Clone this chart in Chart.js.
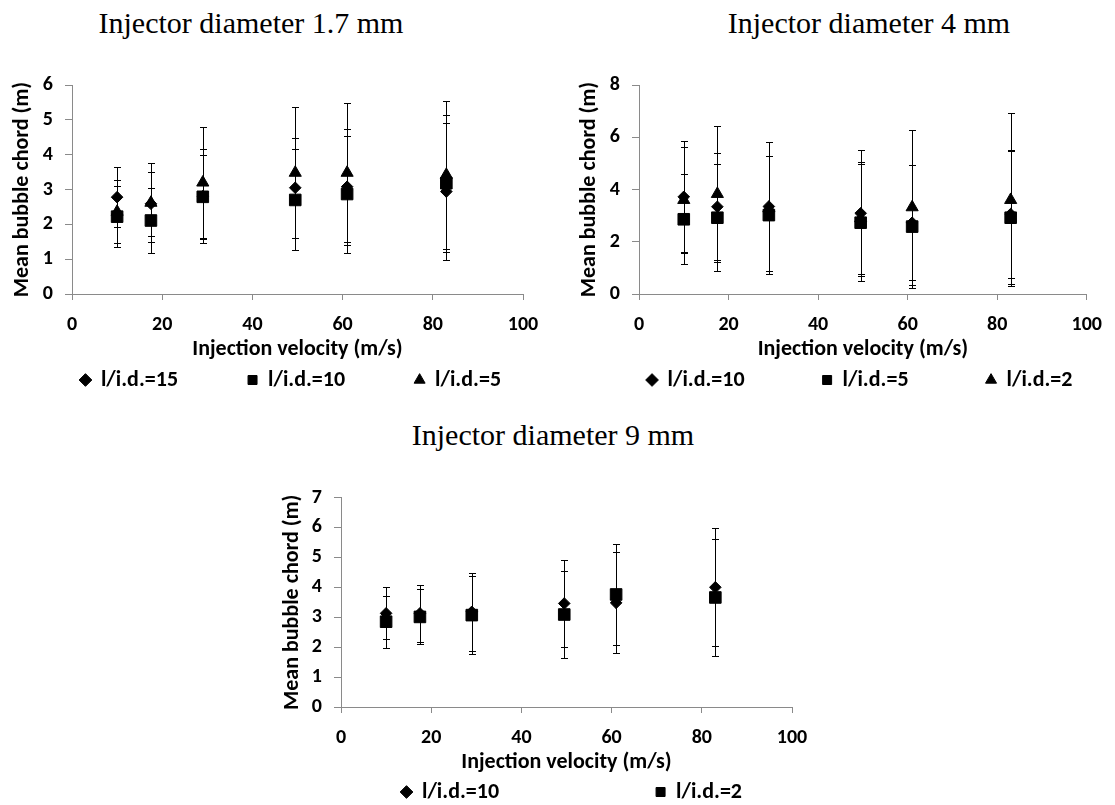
<!DOCTYPE html>
<html>
<head>
<meta charset="utf-8">
<script src="https://cdn.jsdelivr.net/npm/chart.js@4/dist/chart.umd.min.js"></script>
<style>
  html, body { margin: 0; padding: 0; background: #fff; width: 1115px; height: 805px; overflow: hidden; }
  .ttl { position: absolute; font-family: "Liberation Serif", "Times New Roman", serif; font-size: 30px; line-height: 30px; color: #000; white-space: nowrap; transform: translateX(-50%); }
  canvas { position: absolute; }
</style>
</head>
<body>
<div class="ttl" style="left:251px; top:8px;">Injector diameter 1.7 mm</div>
<div class="ttl" style="left:869px; top:8px;">Injector diameter 4 mm</div>
<div class="ttl" style="left:553px; top:420px;">Injector diameter 9 mm</div>
<canvas id="c1" width="557" height="350" style="left:0px; top:50px;"></canvas>
<canvas id="c2" width="548" height="350" style="left:567px; top:50px;"></canvas>
<canvas id="c3" width="560" height="345" style="left:270px; top:460px;"></canvas>
<script>
// ---------------- data ----------------
const velocity = [10, 17.5, 29, 49.5, 61, 83];        // injection velocity (m/s)
const xTicks = [0, 20, 40, 60, 80, 100];

// Injector diameter 1.7 mm
const d17Labels = ['l/i.d.=15', 'l/i.d.=10', 'l/i.d.=5'];
const d17_ld15 = [2.78, 2.59, 2.81, 3.05, 3.08, 2.94];
const d17_ld15_err = [0.86, 0.92, 1.36, 1.43, 1.66, 1.97];
const d17_ld10 = [2.22, 2.11, 2.79, 2.70, 2.87, 3.18];
const d17_ld10_err = [0.87, 0.92, 1.20, 1.45, 1.68, 1.97];
const d17_ld5 = [2.36, 2.62, 3.20, 3.48, 3.48, 3.42];
const d17_ld5_err = [0.90, 1.13, 1.58, 1.88, 2.00, 2.13];
const d17YTicks = [0, 1, 2, 3, 4, 5, 6];

// Injector diameter 4 mm
const d4Labels = ['l/i.d.=10', 'l/i.d.=5', 'l/i.d.=2'];
const d4_ld10 = [3.72, 3.34, 3.35, 3.09, 2.73, 3.06];
const d4_ld10_err = [2.13, 2.05, 2.48, 2.41, 2.20, 2.45];
const d4_ld5 = [2.86, 2.92, 3.02, 2.73, 2.58, 2.92];
const d4_ld5_err = [1.73, 2.04, 2.25, 2.25, 2.34, 2.55];
const d4_ld2 = [3.60, 3.83, 3.28, 2.90, 3.32, 3.60];
const d4_ld2_err = [2.04, 2.60, 2.53, 2.15, 2.96, 3.31];
const d4YTicks = [0, 2, 4, 6, 8];

// Injector diameter 9 mm
const d9Labels = ['l/i.d.=10', 'l/i.d.=2'];
const d9_ld10 = [3.13, 3.13, 3.18, 3.46, 3.48, 4.00];
const d9_ld10_err = [0.87, 0.95, 1.31, 1.45, 1.69, 1.97];
const d9_ld2 = [2.85, 3.01, 3.07, 3.09, 3.76, 3.66];
const d9_ld2_err = [0.87, 0.92, 1.31, 1.45, 1.69, 1.97];
const d9YTicks = [0, 1, 2, 3, 4, 5, 6, 7];

// ---------------- styling ----------------
const FONT = 'Carlito, Lato, "Open Sans", sans-serif';
const GREY = '#8a8a8a';
const MARKERS = {
  diamond: { style: 'rectRot', r: 5.8 },
  square: { style: 'rect', r: 8.2 },
  triangle: { style: 'triangle', r: 7 }
};

const errorBarPlugin = {
  id: 'errorBars',
  beforeDatasetsDraw(chart) {
    const ctx = chart.ctx, xs = chart.scales.x, ys = chart.scales.y;
    ctx.save();
    ctx.strokeStyle = '#000';
    ctx.lineWidth = 1;
    chart.data.datasets.forEach(ds => {
      ds.data.forEach((p, k) => {
        const e = ds.errors[k];
        const px = Math.round(xs.getPixelForValue(p.x)) + 0.5;
        const top = Math.round(ys.getPixelForValue(p.y + e)) + 0.5;
        const bot = Math.round(ys.getPixelForValue(Math.max(0, p.y - e))) + 0.5;
        ctx.beginPath();
        ctx.moveTo(px, top); ctx.lineTo(px, bot);
        ctx.moveTo(px - 3.5, top); ctx.lineTo(px + 3.5, top);
        ctx.moveTo(px - 3.5, bot); ctx.lineTo(px + 3.5, bot);
        ctx.stroke();
      });
    });
    ctx.restore();
  }
};

// places the legend row (one row, centred on cx / cy in canvas pixels)
const legendPlacePlugin = {
  id: 'legendPlace',
  beforeDraw(chart, args, opts) {
    const lg = chart.legend;
    if (!lg || opts.cx === undefined) return;
    lg.maxWidth = 5000;
    lg.maxHeight = 5000;
    lg.fit();
    const lo = lg.options.labels;
    const fs = lo.font.size;
    const w = lg.width;
    lg.left = opts.cx - w / 2;
    lg.right = lg.left + w;
    lg.top = opts.cy - lo.padding - fs / 2;
    lg.bottom = lg.top + lo.padding + fs + 20;
    lg.height = lg.bottom - lg.top;
  }
};

function makeChart(id, cfg) {
  const datasets = cfg.series.map((s, i) => ({
    label: s.label,
    data: velocity.map((v, k) => ({ x: v, y: s.values[k] })),
    errors: s.errors,
    pointStyle: MARKERS[s.marker].style,
    pointRadius: MARKERS[s.marker].r,
    pointHoverRadius: MARKERS[s.marker].r,
    backgroundColor: '#000',
    borderColor: '#000',
    borderWidth: 1,
    showLine: false,
    order: cfg.series.length - i
  }));
  const tickFont = { family: FONT, size: 20, weight: 'bold' };
  const titleFont = { family: FONT, size: 22, weight: 'bold' };
  const chart = new Chart(document.getElementById(id), {
    type: 'scatter',
    data: { datasets },
    plugins: [errorBarPlugin, legendPlacePlugin],
    options: {
      responsive: false,
      animation: false,
      devicePixelRatio: 1,
      layout: { padding: { left: 0, top: 0, right: 0, bottom: 0 } },
      scales: {
        x: {
          type: 'linear', min: 0, max: 100,
          afterBuildTicks: s => { s.ticks = xTicks.map(v => ({ value: v })); },
          afterFit: s => { s.height = 69; },
          grid: { drawOnChartArea: false, drawTicks: true, tickLength: 6, color: GREY, lineWidth: 1 },
          border: { display: true, color: GREY, width: 1 },
          ticks: { color: '#000', font: tickFont, padding: 13, maxRotation: 0 },
          title: { display: true, text: 'Injection velocity (m/s)', color: '#000',
                   font: titleFont, padding: { top: 0, bottom: 0 } }
        },
        y: {
          type: 'linear', min: 0, max: cfg.yTicks[cfg.yTicks.length - 1],
          afterBuildTicks: s => { s.ticks = cfg.yTicks.map(v => ({ value: v })); },
          afterFit: s => { s.width = cfg.area.left; },
          grid: { drawOnChartArea: false, drawTicks: true, tickLength: 7, color: GREY, lineWidth: 1 },
          border: { display: true, color: GREY, width: 1 },
          ticks: { color: '#000', font: tickFont, padding: 12 },
          title: { display: true, text: 'Mean bubble chord (m)', color: '#000',
                   font: titleFont, padding: { top: 9, bottom: 0 } }
        }
      },
      plugins: {
        tooltip: { enabled: false },
        legend: {
          display: true, position: 'bottom', maxHeight: 40,
          labels: {
            usePointStyle: true, boxWidth: 9, boxHeight: 9, padding: cfg.legendGap,
            color: '#000', font: { family: FONT, size: 22, weight: 'bold' },
            sort: (a, b) => a.datasetIndex - b.datasetIndex
          }
        },
        legendPlace: { cx: cfg.legend.x, cy: cfg.legend.y }
      }
    }
  });
  // adjust layout padding so that the plot area lands where the reference has it
  const t = cfg.area;
  for (let i = 0; i < 10; i++) {
    const a = chart.chartArea;
    const p = chart.config.options.layout.padding;
    const dl = t.left - a.left, dt = t.top - a.top, dr = a.right - t.right, db = a.bottom - t.bottom;
    if (Math.abs(dl) + Math.abs(dt) + Math.abs(dr) + Math.abs(db) < 0.3) break;
    chart.config.options.layout.padding = { left: p.left + dl, top: p.top + dt, right: p.right + dr, bottom: p.bottom + db };
    chart.update('none');
  }
  return chart;
}

makeChart('c1', {
  series: [
    { label: d17Labels[0], values: d17_ld15, errors: d17_ld15_err, marker: 'diamond' },
    { label: d17Labels[1], values: d17_ld10, errors: d17_ld10_err, marker: 'square' },
    { label: d17Labels[2], values: d17_ld5, errors: d17_ld5_err, marker: 'triangle' }
  ],
  yTicks: d17YTicks,
  area: { left: 72, top: 35, right: 523, bottom: 244 },
  legend: { x: 291, y: 330 },
  legendGap: 70
});

makeChart('c2', {
  series: [
    { label: d4Labels[0], values: d4_ld10, errors: d4_ld10_err, marker: 'diamond' },
    { label: d4Labels[1], values: d4_ld5, errors: d4_ld5_err, marker: 'square' },
    { label: d4Labels[2], values: d4_ld2, errors: d4_ld2_err, marker: 'triangle' }
  ],
  yTicks: d4YTicks,
  area: { left: 72, top: 35, right: 524, bottom: 244 },
  legend: { x: 293, y: 330 },
  legendGap: 78
});

makeChart('c3', {
  series: [
    { label: d9Labels[0], values: d9_ld10, errors: d9_ld10_err, marker: 'diamond' },
    { label: d9Labels[1], values: d9_ld2, errors: d9_ld2_err, marker: 'square' }
  ],
  yTicks: d9YTicks,
  area: { left: 71, top: 37.5, right: 522, bottom: 247 },
  legend: { x: 302, y: 332 },
  legendGap: 157
});
</script>
</body>
</html>
